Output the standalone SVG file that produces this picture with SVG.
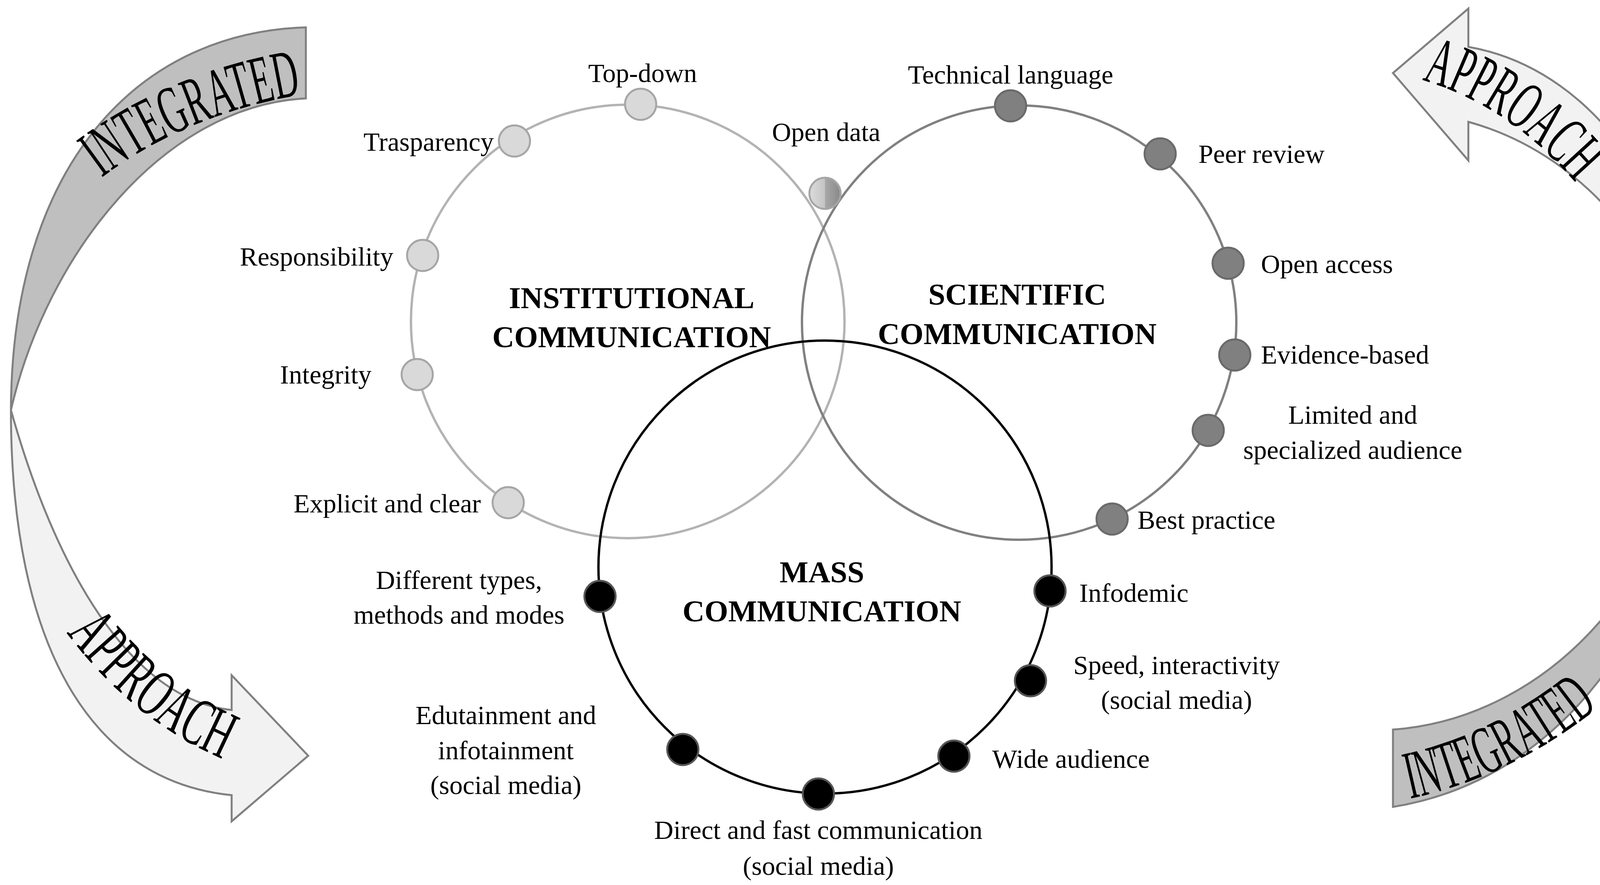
<svg xmlns="http://www.w3.org/2000/svg" width="4364" height="2266" viewBox="0 0 4364 2266">
<style>
.lbl{font-family:"Liberation Serif",serif;font-size:68px;fill:#000}
.ttl{font-family:"Liberation Serif",serif;font-size:78px;font-weight:bold;fill:#000;text-anchor:middle}
.arr{font-family:"Liberation Serif",serif;font-size:175px;fill:#000}
.band{stroke:#808080;stroke-width:5}
.di{fill:#d9d9d9;stroke:#a6a6a6;stroke-width:5}
.ds{fill:#808080;stroke:#6a6a6a;stroke-width:5}
.dm{fill:#000;stroke:#555;stroke-width:5}
</style>
<defs>
<linearGradient id="gOpen" x1="0" x2="1" y1="0" y2="0">
<stop offset="0" stop-color="#dcdcdc"/><stop offset="0.5" stop-color="#c4c4c4"/><stop offset="0.5" stop-color="#a8a8a8"/><stop offset="1" stop-color="#888"/>
</linearGradient>
<path id="tp1" d="M260,455 Q480,290 785,240"/>
<path id="tp2" d="M170,1620 Q380,1900 690,1985"/>
<path id="tp3" d="M3640,205 Q3880,275 4060,500"/>
<path id="tp4" d="M3610,2045 Q3890,1985 4130,1780"/>
</defs>
<rect width="4364" height="2266" fill="#fff"/>
<g id="arrow-left">
<path class="band" fill="#bfbfbf" d="M783,70 C330,85 30,450 28,1050 C120,650 420,270 783,252 Z"/>
<path class="band" fill="#f2f2f2" d="M28,1050 C140,1450 330,1790 593,1818 L593,1729 L789,1935 L593,2103 L593,2036 C230,2000 28,1650 28,1050 Z"/>
<text class="arr"><textPath href="#tp1" textLength="560" lengthAdjust="spacingAndGlyphs">INTEGRATED</textPath></text>
<text class="arr"><textPath href="#tp2" textLength="520" lengthAdjust="spacingAndGlyphs">APPROACH</textPath></text>
</g>
<g id="arrow-right">
<path class="band" fill="#f2f2f2" d="M3566,187 L3759,22 L3759,120 C4100,180 4340,550 4340,1000 C4290,700 4080,400 3759,312 L3759,411 Z"/>
<path class="band" fill="#bfbfbf" d="M4340,1000 C4350,1400 4100,1980 3566,2066 L3566,1868 C3950,1840 4290,1500 4340,1000 Z"/>
<text class="arr"><textPath href="#tp3" textLength="480" lengthAdjust="spacingAndGlyphs">APPROACH</textPath></text>
<text class="arr"><textPath href="#tp4" textLength="540" lengthAdjust="spacingAndGlyphs">INTEGRATED</textPath></text>
</g>
<g id="connectors">
<circle cx="1607" cy="823" r="555" fill="none" stroke="#b3b3b3" stroke-width="6"/>
<circle cx="2609" cy="826" r="556" fill="none" stroke="#808080" stroke-width="6"/>
<circle cx="2112" cy="1452" r="580" fill="none" stroke="#000" stroke-width="6"/>
</g>
<g id="institutional">
<text class="ttl" x="1617" y="789">INSTITUTIONAL</text>
<text class="ttl" x="1617" y="889">COMMUNICATION</text>
<circle class="di" cx="1640" cy="267" r="40"/><text class="lbl" x="1645" y="210" text-anchor="middle">Top-down</text>
<circle class="di" cx="1317" cy="361" r="40"/><text class="lbl" x="1264" y="386" text-anchor="end">Trasparency</text>
<circle class="di" cx="1082" cy="654" r="40"/><text class="lbl" x="1007" y="680" text-anchor="end">Responsibility</text>
<circle class="di" cx="1068" cy="959" r="40"/><text class="lbl" x="951" y="982" text-anchor="end">Integrity</text>
<circle class="di" cx="1301" cy="1287" r="40"/><text class="lbl" x="1231" y="1312" text-anchor="end">Explicit and clear</text>
</g>
<g id="open-data">
<circle cx="2112" cy="495" r="40" fill="url(#gOpen)" stroke="#a6a6a6" stroke-width="5"/>
<text class="lbl" x="2115" y="361" text-anchor="middle">Open data</text>
</g>
<g id="scientific">
<text class="ttl" x="2604" y="780">SCIENTIFIC</text>
<text class="ttl" x="2604" y="881">COMMUNICATION</text>
<circle class="ds" cx="2587" cy="271" r="40"/><text class="lbl" x="2587" y="214" text-anchor="middle">Technical language</text>
<circle class="ds" cx="2970" cy="394" r="40"/><text class="lbl" x="3068" y="417">Peer review</text>
<circle class="ds" cx="3144" cy="674" r="40"/><text class="lbl" x="3228" y="699">Open access</text>
<circle class="ds" cx="3161" cy="909" r="40"/><text class="lbl" x="3228" y="931">Evidence-based</text>
<circle class="ds" cx="3093" cy="1102" r="40"/><text class="lbl" x="3463" y="1085" text-anchor="middle">Limited and</text><text class="lbl" x="3463" y="1175" text-anchor="middle">specialized audience</text>
<circle class="ds" cx="2847" cy="1329" r="40"/><text class="lbl" x="2912" y="1354">Best practice</text>
</g>
<g id="mass">
<text class="ttl" x="2104" y="1491">MASS</text>
<text class="ttl" x="2104" y="1591">COMMUNICATION</text>
<circle class="dm" cx="2688" cy="1513" r="40"/><text class="lbl" x="2763" y="1541">Infodemic</text>
<circle class="dm" cx="2638" cy="1743" r="40"/><text class="lbl" x="3012" y="1726" text-anchor="middle">Speed, interactivity</text><text class="lbl" x="3012" y="1815" text-anchor="middle">(social media)</text>
<circle class="dm" cx="2442" cy="1936" r="40"/><text class="lbl" x="2540" y="1966">Wide audience</text>
<circle class="dm" cx="2095" cy="2033" r="40"/><text class="lbl" x="2095" y="2148" text-anchor="middle">Direct and fast communication</text><text class="lbl" x="2095" y="2240" text-anchor="middle">(social media)</text>
<circle class="dm" cx="1748" cy="1919" r="40"/><text class="lbl" x="1295" y="1854" text-anchor="middle">Edutainment and</text><text class="lbl" x="1295" y="1944" text-anchor="middle">infotainment</text><text class="lbl" x="1295" y="2033" text-anchor="middle">(social media)</text>
<circle class="dm" cx="1536" cy="1527" r="40"/><text class="lbl" x="1175" y="1508" text-anchor="middle">Different types,</text><text class="lbl" x="1175" y="1597" text-anchor="middle">methods and modes</text>
</g>
</svg>
